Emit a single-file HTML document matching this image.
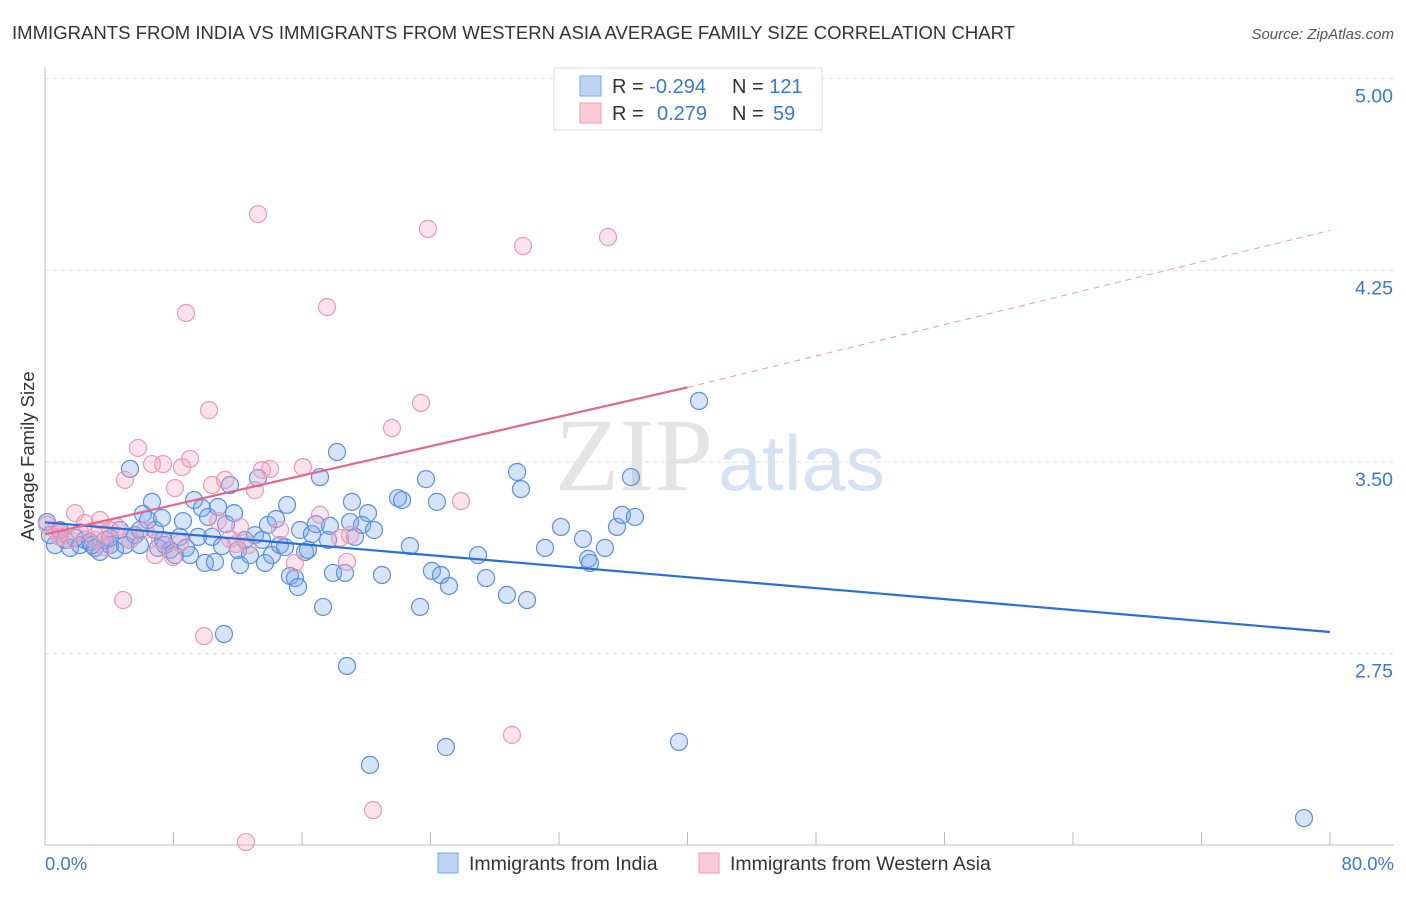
<!DOCTYPE html>
<html><head><meta charset="utf-8">
<style>
body{margin:0;background:#fff;font-family:"Liberation Sans",sans-serif;}
svg text{font-family:"Liberation Sans",sans-serif;}
</style></head>
<body>
<svg id="chart" width="1406" height="892" viewBox="0 0 1406 892" xmlns="http://www.w3.org/2000/svg">
<text x="12" y="39" font-size="18.6" fill="#333" textLength="1003" lengthAdjust="spacingAndGlyphs">IMMIGRANTS FROM INDIA VS IMMIGRANTS FROM WESTERN ASIA AVERAGE FAMILY SIZE CORRELATION CHART</text>
<text x="1394" y="39" font-size="15" fill="#555" font-style="italic" text-anchor="end">Source: ZipAtlas.com</text>
<text x="555" y="490" font-size="104" fill="#e4e4e4" textLength="158" lengthAdjust="spacingAndGlyphs" style="font-family:'Liberation Serif',serif">ZIP</text>
<text x="718" y="490" font-size="78" fill="#d6e2f3" textLength="167" lengthAdjust="spacingAndGlyphs">atlas</text>
<g id="grid"></g>
<g id="axes"></g>
<g id="pts"></g>
<g id="lines"></g>
<text x="34" y="456" font-size="18.5" fill="#333" text-anchor="middle" transform="rotate(-90 34 456)">Average Family Size</text>
<text x="45" y="870" font-size="18.5" fill="#3a78d6">0.0%</text>
<text x="1394" y="870" font-size="18.5" fill="#3a78d6" text-anchor="end">80.0%</text>
<g>
<rect x="554" y="68" width="268" height="62" fill="#fff" stroke="#ddd"/>
<rect x="580" y="76" width="21" height="20" fill="#bcd5f5" stroke="#7aa6e6"/>
<rect x="580" y="103" width="21" height="20" fill="#fbc9d8" stroke="#ee9ab5"/>
<text x="612" y="93" font-size="20" fill="#333">R = <tspan fill="#3a78d6">-0.294</tspan></text>
<text x="732" y="93" font-size="20" fill="#333">N = <tspan fill="#3a78d6">121</tspan></text>
<text x="612" y="120" font-size="20" fill="#333">R = <tspan fill="#3a78d6" x="657">0.279</tspan></text>
<text x="732" y="120" font-size="20" fill="#333">N = <tspan fill="#3a78d6" x="773">59</tspan></text>
</g>
<g>
<rect x="438" y="853" width="20" height="20" fill="#bcd5f5" stroke="#7aa6e6"/>
<text x="469" y="870" font-size="19.5" fill="#333">Immigrants from India</text>
<rect x="699" y="853" width="20" height="20" fill="#fbc9d8" stroke="#ee9ab5"/>
<text x="730" y="870" font-size="19.5" fill="#333">Immigrants from Western Asia</text>
</g>
</svg>
<script>
const yTicks=[5.00,4.25,3.50,2.75];
const xTickPcts=[0,8,16,24,32,40,48,56,64,72,80];
const indiaPx=[[47,522],[50,535],[55,545],[60,530],[65,540],[70,548],[75,538],[80,545],[85,540],[90,542],[95,548],[100,552],[105,540],[110,545],[115,550],[120,530],[125,545],[130,540],[130,469],[135,535],[140,530],[143,514],[148,520],[152,502],[155,530],[158,548],[162,518],[165,545],[170,550],[175,555],[180,537],[183,521],[186,548],[190,555],[194,500],[198,537],[202,508],[205,563],[208,517],[212,537],[215,562],[218,507],[222,546],[226,524],[230,485],[234,513],[238,550],[240,565],[245,540],[250,555],[255,535],[258,478],[262,540],[265,563],[268,525],[272,555],[276,519],[280,545],[285,547],[287,505],[290,576],[295,578],[298,587],[300,530],[305,552],[308,550],[312,534],[316,524],[320,477],[323,607],[328,540],[330,526],[333,573],[337,452],[345,573],[347,666],[350,522],[352,502],[355,537],[362,525],[368,513],[370,765],[374,530],[382,575],[398,498],[402,500],[410,546],[420,607],[426,479],[432,571],[437,502],[441,575],[446,747],[449,586],[478,555],[486,578],[507,595],[517,472],[521,489],[527,600],[545,548],[561,527],[583,539],[588,559],[590,563],[605,548],[617,527],[622,515],[631,477],[635,517],[679,742],[699,401],[1304,818],[224,634],[92,545],[110,538],[140,545],[163,540]];
const waPx=[[47,525],[55,530],[60,537],[70,540],[75,513],[85,523],[95,540],[100,520],[105,547],[110,530],[117,527],[123,600],[125,480],[130,540],[138,448],[145,530],[152,464],[155,555],[160,540],[163,464],[173,557],[175,488],[180,543],[182,467],[186,313],[190,459],[204,636],[209,410],[212,485],[218,521],[225,480],[236,544],[240,527],[246,842],[248,545],[255,490],[258,214],[262,470],[270,469],[280,530],[295,563],[303,467],[320,515],[327,307],[340,538],[347,562],[350,535],[373,810],[392,428],[421,403],[428,229],[461,501],[512,735],[523,246],[608,237],[60,533],[80,532],[100,531],[230,539]];
const indiaX=indiaPx.map(p=>+((p[0]-45)/1285*80).toFixed(2));
const indiaY=indiaPx.map(p=>+(3.5-(p[1]-462)/255.6).toFixed(3));
const waX=waPx.map(p=>+((p[0]-45)/1285*80).toFixed(2));
const waY=waPx.map(p=>+(3.5-(p[1]-462)/255.6).toFixed(3));
const indiaTrend=[3.264,2.835];
const waTrend=[3.217,3.792,4.406];

const sx=v=>45+v/80*1285;
const sy=v=>462-(v-3.5)*255.6;
const NS="http://www.w3.org/2000/svg";
function mk(t,a,parent){const e=document.createElementNS(NS,t);for(const k in a)e.setAttribute(k,a[k]);document.getElementById(parent).appendChild(e);return e;}
yTicks.forEach(v=>{
  const l=mk('line',{x1:45,x2:1394,y1:sy(v),y2:sy(v),stroke:'#ddd','stroke-dasharray':'4,4'},'grid');
  
  
  const t=mk('text',{x:1393,y:sy(v)+24,'font-size':19.5,fill:'#3a78d6','text-anchor':'end'},'grid');
  t.textContent=v.toFixed(2);
  
  
});
const ax=mk('line',{x1:45,x2:1394,y1:845,y2:845,stroke:'#bbb'},'axes');


const ay=mk('line',{x1:45,x2:45,y1:67,y2:845,stroke:'#bbb'},'axes');


xTickPcts.forEach(p=>{
  const t=mk('line',{x1:sx(p),x2:sx(p),y1:832,y2:845,stroke:'#bbb'},'axes');
  
  
});
indiaX.forEach((x,i)=>{
  const c=mk('circle',{cx:sx(x),cy:sy(indiaY[i]),r:8.5,fill:'rgba(120,165,235,0.3)',stroke:'#5b8fe0','stroke-width':1.2},'pts');
  
  
});
waX.forEach((x,i)=>{
  const c=mk('circle',{cx:sx(x),cy:sy(waY[i]),r:8.5,fill:'rgba(245,160,190,0.3)',stroke:'#eb9ab4','stroke-width':1.2},'pts');
  
  
});
const bl=mk('line',{x1:sx(0),y1:sy(indiaTrend[0]),x2:sx(80),y2:sy(indiaTrend[1]),stroke:'#2a6fd6','stroke-width':2.2},'lines');


const pl=mk('line',{x1:sx(0),y1:sy(waTrend[0]),x2:sx(40),y2:sy(waTrend[1]),stroke:'#e4668f','stroke-width':2.2},'lines');


const pd=mk('line',{x1:sx(40),y1:sy(waTrend[1]),x2:sx(80),y2:sy(waTrend[2]),stroke:'#e89ab3','stroke-width':1,'stroke-dasharray':'6,5'},'lines');


</script>
</body></html>
